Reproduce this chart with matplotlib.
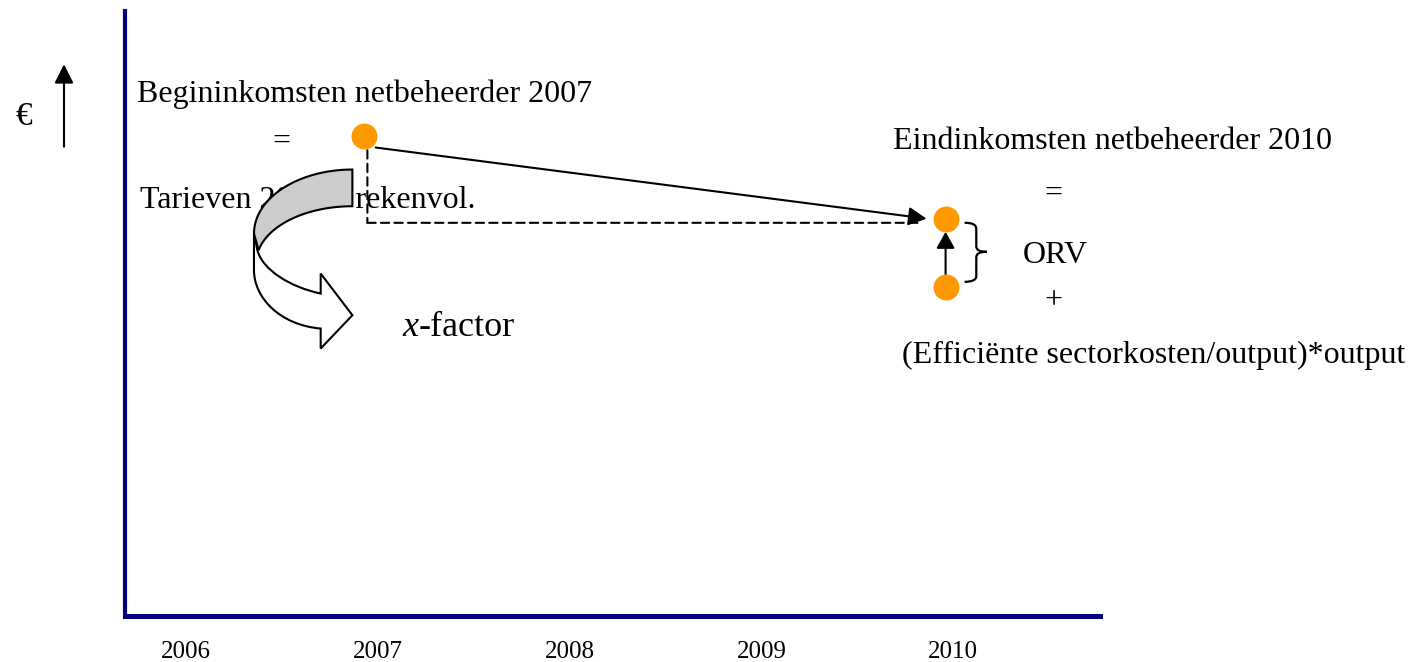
import numpy as np
import matplotlib
matplotlib.use("Agg")
import matplotlib.pyplot as plt
from matplotlib.path import Path
from matplotlib.patches import PathPatch, FancyArrowPatch
import matplotlib.transforms as mtransforms

plt.rcParams['font.family'] = ['Liberation Serif', 'DejaVu Serif']

# ---------------- data ----------------
years = [2006, 2007, 2008, 2009, 2010]
year_labels = ['2006', '2007', '2008', '2009', '2010']
start_year = [2006.93]            # begin income point (2007)
start_income = [79.3]
end_year = [2009.96, 2009.96]     # end points (2010)
end_income = [65.6, 54.4]         # ORV level, efficient sector cost level

begin_label = 'Begininkomsten netbeheerder 2007'
tariff_label = 'Tarieven 2007 * rekenvol.'
end_label = 'Eindinkomsten netbeheerder 2010'
orv_label = 'ORV'
eff_label = '(Efficiënte sectorkosten/output)*output'

# ---------------- figure ----------------
W, H, DPI = 1416, 662, 100
fig = plt.figure(figsize=(W / DPI, H / DPI), dpi=DPI)
ax = fig.add_axes([125 / W, (H - 616) / H, 975 / W, 605 / H])
ax.set_xlim(2005.682, 2010.765)
ax.set_ylim(0, 100)

NAVY = '#000080'
ORANGE = '#FF9900'
for s in ['top', 'right']:
    ax.spines[s].set_visible(False)
ax.spines['left'].set_color(NAVY)
ax.spines['left'].set_linewidth(3.0)
ax.spines['bottom'].set_color(NAVY)
ax.spines['bottom'].set_linewidth(3.6)
ax.set_yticks([])
ax.set_xticks(years, year_labels, fontsize=18)
ax.tick_params(axis='x', length=0, pad=18)


def off(dx, dy):
    """data transform shifted by dx, dy image pixels (dy downwards)"""
    return mtransforms.offset_copy(ax.transData, fig=fig, x=dx, y=-dy, units='dots')


def anchored(x, y):
    """pixel offsets (y downward) relative to a data point"""
    return mtransforms.Affine2D().scale(1, -1) + mtransforms.ScaledTranslation(x, y, ax.transData)


def ftext(x, y, s, **kw):
    kw.setdefault('va', 'baseline')
    kw.setdefault('fontsize', 23)
    kw.setdefault('zorder', 3)
    return ax.text(x / W, 1 - y / H, s, transform=fig.transFigure, clip_on=False, **kw)


# ---------------- points ----------------
ax.plot(start_year, start_income, 'o', ms=18.7, color=ORANGE, mec='none', zorder=6, clip_on=False)
ax.plot(end_year, end_income, 'o', ms=18.7, color=ORANGE, mec='none', zorder=6, clip_on=False)

# main arrow 2007 -> 2010
ax.annotate('', xy=(end_year[0], end_income[0]), xycoords=off(-19, -0.5),
            xytext=(start_year[0], start_income[0]), textcoords=off(11.3, 11.3),
            arrowprops=dict(arrowstyle='-|>,head_length=11,head_width=5.6', lw=1.5,
                            color='black', shrinkA=0, shrinkB=0, mutation_scale=1),
            zorder=4)

# dashed guide lines
dash = dict(arrowstyle='-', lw=1.5, color='black', linestyle=(0, (4, 2.5)),
            shrinkA=0, shrinkB=0, mutation_scale=1)
ax.annotate('', xy=(start_year[0], end_income[0]), xycoords=off(3, 3.7),
            xytext=(start_year[0], start_income[0]), textcoords=off(3, 14),
            arrowprops=dash, zorder=4)
ax.annotate('', xy=(end_year[0], end_income[0]), xycoords=off(-28, 3.7),
            xytext=(start_year[0], end_income[0]), textcoords=off(3, 3.7),
            arrowprops=dash, zorder=4)

# vertical arrow between 2010 points
ax.annotate('', xy=(end_year[0], end_income[0]), xycoords=off(0, 12.7),
            xytext=(end_year[1], end_income[1]), textcoords=off(0, -12),
            arrowprops=dict(arrowstyle='-|>,head_length=10,head_width=5.6', lw=1.5,
                            color='black', shrinkA=0, shrinkB=0, mutation_scale=1),
            zorder=4)

# brace right of the 2010 points
bv = [(19, 3.7), (26, 3.7), (30.7, 5), (30.7, 10),
      (30.7, 27),
      (30.7, 31), (34, 32.7), (41.3, 32.7),
      (34, 32.7), (30.7, 34.4), (30.7, 38.4),
      (30.7, 57),
      (30.7, 61), (26, 62.7), (19, 62.7)]
bc = [Path.MOVETO, Path.CURVE4, Path.CURVE4, Path.CURVE4,
      Path.LINETO,
      Path.CURVE4, Path.CURVE4, Path.CURVE4,
      Path.CURVE4, Path.CURVE4, Path.CURVE4,
      Path.LINETO,
      Path.CURVE4, Path.CURVE4, Path.CURVE4]
ax.add_patch(PathPatch(Path(bv, bc), fill=False, lw=1.6, ec='black',
                       transform=anchored(end_year[0], end_income[0]), clip_on=False))

# curved x-factor arrow (pixel offsets relative to the 2007 point)
P1 = np.array([363.7, 136.0])
wv = np.array([(253.3, 233.3), (253.3, 270),
               (253.3, 298), (280, 325), (320, 328.3),
               (320, 348.3), (351.7, 315), (320, 273.3), (320, 293.3),
               (290, 287), (262, 270), (256.7, 250),
               (253.3, 233.3)]) - P1
wc = [Path.MOVETO, Path.LINETO,
      Path.CURVE4, Path.CURVE4, Path.CURVE4,
      Path.LINETO, Path.LINETO, Path.LINETO, Path.LINETO,
      Path.CURVE4, Path.CURVE4, Path.CURVE4,
      Path.CLOSEPOLY]
ax.add_patch(PathPatch(Path(wv, wc), fc='white', ec='black', lw=1.5, zorder=5,
                       transform=anchored(start_year[0], start_income[0]), clip_on=False))

t_out = np.radians(np.linspace(90, 180, 40))
outer = np.column_stack([351.7 + 98.4 * np.cos(t_out), 233.3 - 64 * np.sin(t_out)])
t_in = np.radians(np.linspace(167.6, 90, 40))
inner = np.column_stack([351.7 + 96 * np.cos(t_in), 262 - 56 * np.sin(t_in)])
gv = np.vstack([outer, inner, outer[:1]]) - P1
gc = [Path.MOVETO] + [Path.LINETO] * (len(gv) - 2) + [Path.CLOSEPOLY]
ax.add_patch(PathPatch(Path(gv, gc), fc='#CCCCCC', ec='black', lw=1.5, zorder=5,
                       joinstyle='miter',
                       transform=anchored(start_year[0], start_income[0]), clip_on=False))

# ---------------- texts ----------------
ftext(15, 125, '€', fontsize=24)
fig.add_artist(FancyArrowPatch((64 / W, 1 - 146.7 / H), (64 / W, 1 - 64.3 / H),
                               transform=fig.transFigure,
                               arrowstyle='-|>,head_length=11.5,head_width=5.8',
                               mutation_scale=1, lw=1.5, color='black',
                               shrinkA=0, shrinkB=0))

ftext(137, 102, begin_label)
ftext(281.7, 150, '=', ha='center')
ftext(140, 208, tariff_label, zorder=2)

tx = ftext(402.7, 336, 'x', fontsize=26, style='italic')
ax.annotate('-factor', xy=(1, 0), xycoords=tx, va='bottom', ha='left', fontsize=26,
            annotation_clip=False)

ftext(893, 149, end_label)
ftext(1053, 202, '=', ha='center')
ftext(1023, 263, orv_label)
ftext(1053, 308, '+', ha='center')
ftext(901.7, 363, eff_label)

fig.savefig('out.png', dpi=DPI, facecolor='white')
